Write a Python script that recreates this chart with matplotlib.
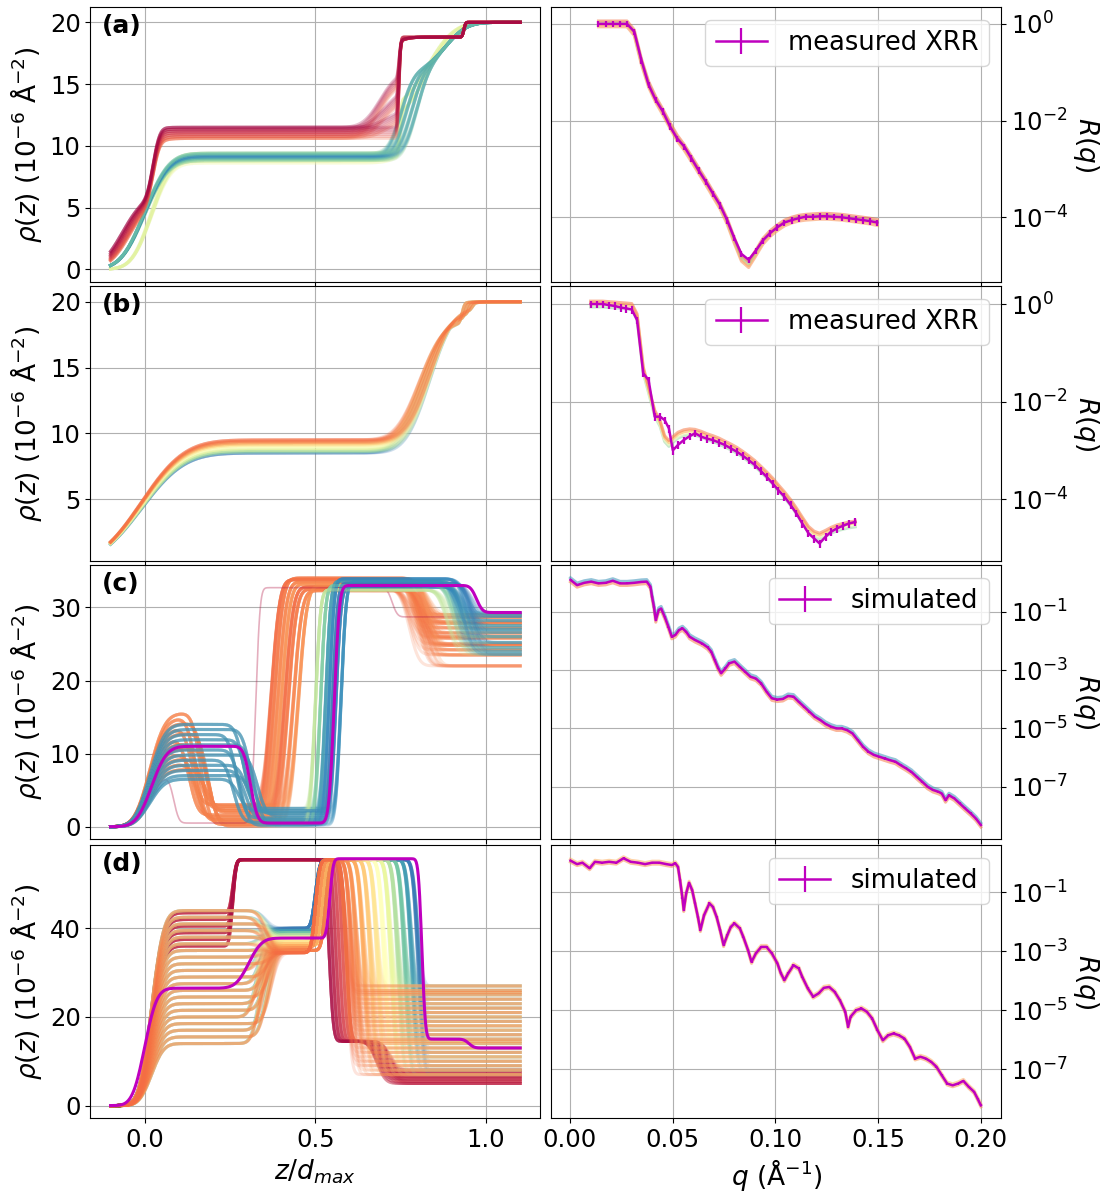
import math
from itertools import product

import matplotlib
matplotlib.use("Agg")
import matplotlib.pyplot as plt
import numpy as np

plt.rcParams.update({"font.size": 18, "xtick.labelsize": 17.5, "ytick.labelsize": 17.5})
cmap = plt.get_cmap("Spectral")

# ---- SLD profiles: layer levels / interface positions / roughness ----------

# (a) measured film, two families of solutions
A_RED_PLATEAU = [10.6, 10.75, 10.9, 11.05, 11.2, 11.35, 11.5]
A_RED_ONSET = [-0.040, -0.044, -0.048, -0.052, -0.056, -0.060, -0.065]
A_RED_SHADE = [0.19, 0.16, 0.13, 0.10, 0.07, 0.04, 0.01]
A_RED_SHOULDER = [0.0, 1.5, 3.0, 4.5]
A_RED_SHOULDER_Z = [0.72, 0.71, 0.70, 0.69]

A_COOL_PLATEAU = [8.8, 8.9, 9.0, 9.1, 9.2, 9.3, 9.4]
A_COOL_SHADE = [0.72, 0.76, 0.82, 0.88, 0.90, 0.84, 0.78]
A_COOL_RISE_Z = [0.75, 0.765, 0.78, 0.795]

A_YEL_PLATEAU = [8.6, 8.75, 8.9, 9.05, 9.2, 9.4]
A_YEL_SHADE = [0.56, 0.60, 0.64, 0.58, 0.54, 0.62]
A_YEL_JUMP = [12.0, 13.0]

# (b)
B_PLATEAU = [8.5, 8.6, 8.7, 8.85, 9.0, 9.1, 9.2, 9.3, 9.4, 9.5]
B_SHADE = [0.92, 0.74, 0.66, 0.58, 0.50, 0.42, 0.34, 0.27, 0.23, 0.20]
B_RISE_Z = [0.805, 0.815, 0.825, 0.835]
B_UPPER = [18.5, 18.9, 19.2, 19.5]
B_TOP_Z = [0.93, 0.94, 0.95, 0.96]

# (c) simulated three-layer film
C_FIT_LEVELS = [0.0, 11.0, 0.5, 33.0, 29.3]
C_FIT_EDGES = [0.02, 0.31, 0.555, 0.972]
C_FIT_WIDTHS = [0.035, 0.016, 0.012, 0.014]

C_OR_PEAK = [15.5, 14.8, 14.1, 13.4, 12.7, 12.0, 11.3, 10.6, 9.9, 9.2, 8.5, 7.8]
C_OR_FALL = [0.165, 0.150, 0.175, 0.140, 0.185, 0.130, 0.160, 0.190, 0.145, 0.170, 0.155, 0.180]
C_OR_LOW = [0.3, 1.0, 2.0, 3.0, 0.6, 1.6, 2.5, 0.1, 1.3, 2.8, 0.8, 2.2]
C_OR_RISE = [0.37, 0.38, 0.39, 0.40, 0.41, 0.42, 0.435, 0.45]
C_OR_TOP = [33.8, 34.0, 33.5, 33.2, 32.8, 32.5, 32.3, 33.0]
C_OR_DROP = [0.80, 0.82, 0.79, 0.835, 0.81, 0.775, 0.825, 0.805]
C_OR_END = [23.5, 25.0, 26.5, 28.0, 29.0, 24.2, 27.2, 22.0, 25.8, 28.6, 24.8, 26.0, 27.8]
C_OR_SHADE = [0.20, 0.22, 0.24, 0.26]

C_CO_PEAK = [14.0, 13.3, 12.6, 11.9, 11.2, 10.5, 9.8, 9.1, 8.4, 7.7, 7.0, 6.5]
C_CO_FALL = [0.29, 0.31, 0.27, 0.30, 0.32, 0.28, 0.33, 0.26, 0.30, 0.295, 0.315, 0.275]
C_CO_LOW = [2.5, 1.8, 1.2, 0.8, 0.4, 0.2, 1.5, 0.6, 2.0, 1.0, 0.3, 2.2]
C_CO_RISE = [0.50, 0.515, 0.53, 0.54, 0.55, 0.56, 0.575]
C_CO_TOP = [32.4, 33.0, 33.6, 33.9, 33.3, 32.8, 33.5]
C_CO_DROP = [0.885, 0.905, 0.925, 0.945, 0.96, 0.935, 0.915]
C_CO_SHADE = [0.66, 0.76, 0.86, 0.90, 0.92, 0.91, 0.89]
C_CO_END = [24.5, 26.0, 27.5, 28.8, 25.2, 23.6, 27.0, 29.2, 26.6, 24.0, 28.2]

C_ODD_LEVELS = [0.0, 7.0, 0.5, 32.7, 28.7]
C_ODD_EDGES = [0.015, 0.085, 0.325, 0.725]
C_ODD_WIDTHS = [0.03, 0.012, 0.01, 0.012]

# (d) simulated four-layer film
D_FIT_LEVELS = [0.0, 26.5, 37.8, 55.7, 15.0, 13.0]
D_FIT_EDGES = [0.0, 0.305, 0.542, 0.812, 0.95]
D_FIT_WIDTHS = [0.028, 0.03, 0.008, 0.008, 0.012]

D_RED_FIRST = [36.0, 37.5, 39.0, 40.5, 42.0, 43.5]
D_RED_DROP = [0.590, 0.580, 0.570, 0.560, 0.550, 0.540]
D_RED_SHADE = [0.17, 0.14, 0.11, 0.08, 0.05, 0.02]
D_RED_END = [5.0, 5.5, 6.0, 6.5, 7.0, 7.5, 8.0]
D_RED_SECOND_DROP = [0.68, 0.70, 0.72, 0.69, 0.71]

D_LATE_FIRST = [14.0, 15.5, 17.0, 18.5, 20.0, 21.5, 23.0, 24.5, 26.0, 27.5, 29.0,
                30.5, 32.0, 33.5, 35.0, 36.5, 38.0, 39.5, 41.0, 42.5, 44.0]
D_LATE_STEP = [0.34, 0.36, 0.35, 0.37, 0.33, 0.355, 0.345, 0.365, 0.35, 0.34, 0.36,
               0.335, 0.37, 0.345, 0.355, 0.34, 0.36, 0.35, 0.365, 0.345, 0.355]
D_LATE_DROP = [0.80, 0.78, 0.76, 0.74, 0.72, 0.70, 0.68, 0.66, 0.64, 0.62, 0.605, 0.59]
D_LATE_SHADE = [0.92, 0.86, 0.78, 0.68, 0.58, 0.50, 0.42, 0.36, 0.30, 0.26, 0.23, 0.20]
D_LATE_SECOND = [40.0, 39.5, 39.0, 38.5, 38.0, 37.5, 37.0, 36.5, 36.0, 35.5, 35.0, 34.5]
D_LATE_RISE = [0.50, 0.51, 0.52, 0.53, 0.525, 0.515, 0.505, 0.535, 0.52, 0.51, 0.53, 0.50]
D_LATE_END = [8.0, 11.0, 14.0, 17.0, 20.0, 23.0, 25.0, 27.0, 15.0, 19.0, 12.0, 22.0,
              9.0, 24.0, 16.0, 26.0, 10.0, 21.0, 13.0, 18.0, 7.0, 25.5, 14.5]

# ---- reflectivity curves (log10 R) ---------------------------------------

A_Q = [0.0139, 0.0174, 0.0209, 0.0243, 0.0278, 0.0313, 0.0348, 0.0383, 0.0417, 0.0452,
       0.0487, 0.0522, 0.0557, 0.0591, 0.0626, 0.0661, 0.0696, 0.0731, 0.0765, 0.0800,
       0.0835, 0.0870, 0.0905, 0.0939, 0.0974, 0.1009, 0.1044, 0.1079, 0.1113, 0.1148,
       0.1183, 0.1218, 0.1253, 0.1287, 0.1322, 0.1357, 0.1392, 0.1427, 0.1461, 0.1496]
A_LOGR = [0.0, 0.0, 0.0, 0.0, 0.0, -0.16, -0.75, -1.26, -1.57, -1.81,
          -2.12, -2.37, -2.54, -2.78, -3.03, -3.26, -3.51, -3.75, -4.06, -4.43,
          -4.76, -4.88, -4.69, -4.48, -4.33, -4.21, -4.11, -4.06, -4.02, -3.99,
          -3.99, -3.98, -3.98, -3.99, -4.00, -4.02, -4.04, -4.06, -4.08, -4.11]
A_FIT_LOGR = [0.0, 0.0, 0.0, 0.0, 0.0, -0.18, -0.78, -1.25, -1.56, -1.82,
              -2.10, -2.36, -2.56, -2.79, -3.03, -3.27, -3.52, -3.77, -4.08, -4.48,
              -4.85, -4.98, -4.74, -4.50, -4.34, -4.22, -4.12, -4.06, -4.02, -4.00,
              -3.99, -3.98, -3.98, -3.99, -4.00, -4.02, -4.04, -4.06, -4.08, -4.11]

B_Q = [0.0101, 0.0131, 0.0160, 0.0188, 0.0218, 0.0247, 0.0275, 0.0301, 0.0327, 0.0357,
       0.0383, 0.0413, 0.0439, 0.0461, 0.0482, 0.0501, 0.0526, 0.0554, 0.0583, 0.0609,
       0.0639, 0.0667, 0.0696, 0.0726, 0.0754, 0.0783, 0.0813, 0.0841, 0.0870, 0.0900,
       0.0928, 0.0957, 0.0987, 0.1015, 0.1044, 0.1074, 0.1102, 0.1131, 0.1161, 0.1189,
       0.1215, 0.1245, 0.1271, 0.1300, 0.1328, 0.1358, 0.1389]
B_LOGR = [0.0, 0.0, 0.0, -0.02, -0.04, -0.07, -0.09, -0.11, -0.33, -1.42,
          -1.56, -2.31, -2.31, -2.38, -2.55, -3.00, -2.89, -2.79, -2.71, -2.65,
          -2.72, -2.76, -2.79, -2.84, -2.89, -2.96, -3.03, -3.11, -3.20, -3.30,
          -3.42, -3.54, -3.68, -3.82, -3.95, -4.12, -4.29, -4.50, -4.70, -4.81,
          -4.91, -4.77, -4.67, -4.60, -4.55, -4.50, -4.47]
B_FIT_LOGR = [0.0, 0.0, 0.0, -0.01, -0.02, -0.03, -0.04, -0.05, -0.26, -1.35,
              -1.76, -2.24, -2.45, -2.76, -2.86, -2.78, -2.69, -2.64, -2.62, -2.63,
              -2.67, -2.72, -2.76, -2.81, -2.87, -2.93, -3.00, -3.08, -3.17, -3.27,
              -3.38, -3.50, -3.63, -3.77, -3.91, -4.07, -4.24, -4.43, -4.62, -4.72,
              -4.76, -4.70, -4.64, -4.59, -4.56, -4.53, -4.51]

C_Q = [0.0003, 0.0035, 0.0070, 0.0104, 0.0139, 0.0174, 0.0209, 0.0244, 0.0279, 0.0313,
       0.0348, 0.0374, 0.0392, 0.0400, 0.0409, 0.0418, 0.0432, 0.0444, 0.0461, 0.0479,
       0.0496, 0.0513, 0.0531, 0.0548, 0.0566, 0.0583, 0.0609, 0.0644, 0.0670, 0.0688,
       0.0705, 0.0722, 0.0736, 0.0757, 0.0775, 0.0801, 0.0827, 0.0853, 0.0879, 0.0905,
       0.0931, 0.0957, 0.0983, 0.1010, 0.1036, 0.1062, 0.1088, 0.1114, 0.1140, 0.1166,
       0.1192, 0.1218, 0.1245, 0.1271, 0.1297, 0.1323, 0.1349, 0.1375, 0.1401, 0.1427,
       0.1453, 0.1480, 0.1506, 0.1532, 0.1558, 0.1584, 0.1610, 0.1636, 0.1662, 0.1688,
       0.1715, 0.1741, 0.1767, 0.1793, 0.1810, 0.1828, 0.1845, 0.1871, 0.1897, 0.1923,
       0.1950, 0.1976, 0.2000]
C_LOGR = [0.09, -0.09, -0.01, 0.03, -0.03, -0.01, 0.06, -0.03, -0.03, -0.01,
          0.02, 0.03, -0.14, -0.49, -0.83, -1.29, -0.94, -0.89, -1.17, -1.51,
          -1.86, -1.80, -1.63, -1.57, -1.69, -1.86, -1.97, -2.09, -2.22, -2.37,
          -2.66, -2.94, -3.11, -2.94, -2.77, -2.71, -2.89, -3.06, -3.23, -3.29,
          -3.46, -3.74, -3.97, -4.01, -3.99, -3.89, -3.91, -4.09, -4.26, -4.43,
          -4.60, -4.71, -4.85, -4.94, -5.00, -5.00, -5.06, -5.17, -5.40, -5.63,
          -5.80, -5.91, -5.97, -6.03, -6.09, -6.14, -6.26, -6.37, -6.49, -6.66,
          -6.83, -7.00, -7.11, -7.17, -7.23, -7.46, -7.29, -7.40, -7.57, -7.74,
          -7.91, -8.09, -8.31]

D_Q = [0.0003, 0.0035, 0.0061, 0.0096, 0.0122, 0.0157, 0.0191, 0.0226, 0.0261, 0.0296,
       0.0331, 0.0366, 0.0400, 0.0435, 0.0470, 0.0496, 0.0513, 0.0526, 0.0536, 0.0548,
       0.0554, 0.0566, 0.0580, 0.0595, 0.0609, 0.0623, 0.0635, 0.0653, 0.0679, 0.0696,
       0.0714, 0.0731, 0.0748, 0.0766, 0.0783, 0.0801, 0.0827, 0.0844, 0.0867, 0.0884,
       0.0905, 0.0931, 0.0957, 0.0983, 0.1010, 0.1027, 0.1044, 0.1062, 0.1088, 0.1114,
       0.1131, 0.1158, 0.1184, 0.1210, 0.1236, 0.1262, 0.1288, 0.1314, 0.1340, 0.1354,
       0.1366, 0.1393, 0.1419, 0.1445, 0.1471, 0.1497, 0.1523, 0.1549, 0.1575, 0.1601,
       0.1628, 0.1654, 0.1680, 0.1706, 0.1732, 0.1758, 0.1784, 0.1810, 0.1836, 0.1863,
       0.1889, 0.1915, 0.1941, 0.1967, 0.1984, 0.2000]
D_LOGR = [0.08, -0.04, 0.01, -0.18, 0.04, 0.01, 0.04, 0.01, 0.16, 0.04,
          0.01, -0.04, 0.01, 0.01, -0.04, -0.07, -0.01, -0.13, -0.58, -1.20,
          -1.60, -1.03, -0.67, -0.92, -1.37, -1.83, -2.28, -1.77, -1.37, -1.49,
          -1.83, -2.28, -2.79, -2.45, -2.17, -2.05, -2.22, -2.51, -2.96, -3.36,
          -3.07, -2.85, -2.85, -3.07, -3.41, -3.75, -3.98, -3.75, -3.47, -3.58,
          -3.87, -4.26, -4.54, -4.43, -4.24, -4.21, -4.37, -4.66, -5.05, -5.56,
          -5.22, -5.00, -4.94, -5.05, -5.28, -5.68, -6.02, -5.85, -5.79, -5.85,
          -5.96, -6.24, -6.64, -6.58, -6.64, -6.75, -6.92, -7.21, -7.49, -7.55,
          -7.49, -7.40, -7.60, -7.77, -8.00, -8.23]

Z = np.linspace(-0.1, 1.1, 600)
_erf = np.vectorize(math.erf)


def slab(levels, edges, widths):
    """Error-function slab profile on the Z grid."""
    rho = np.full_like(Z, levels[0], dtype=float)
    for lo, hi, e, w in zip(levels[:-1], levels[1:], edges, widths):
        rho += (hi - lo) * 0.5 * (1 + _erf((Z - e) / (np.sqrt(2) * w)))
    return rho


def member(ax, rho, shade, alpha=0.25, lw=2.2):
    ax.plot(Z, rho, color=cmap(shade), alpha=alpha, lw=lw)


def spread(ax, q, logr, offsets, shades):
    q = np.asarray(q); logr = np.asarray(logr)
    for off, sh in zip(offsets, shades):
        ax.plot(q, 10 ** (logr + off), color=cmap(sh), alpha=0.55, lw=2.2)


def measured(ax, q, logr, rel, label):
    r = 10 ** np.asarray(logr)
    ax.errorbar(q, r, yerr=rel * r, color="m", lw=1.8, elinewidth=1.6, capsize=0, label=label)


fig = plt.figure(figsize=(11.06, 11.91), dpi=100)
W, H = 1106, 1191
ROW_TOP = [7, 286, 565, 845]
ROW_H = [275, 275, 274, 273]
left_axes, right_axes = [], []
for top, h in zip(ROW_TOP, ROW_H):
    left_axes.append(fig.add_axes([90.4 / W, 1 - (top + h) / H, 449.6 / W, h / H]))
    right_axes.append(fig.add_axes([551.4 / W, 1 - (top + h) / H, 450.0 / W, h / H]))
axa, axb, axc, axd = left_axes
rxa, rxb, rxc, rxd = right_axes

# (a) profiles
for (i, p), jump in product(enumerate(A_YEL_PLATEAU), A_YEL_JUMP):
    member(axa, slab([0, p, jump, 20], [0.02, 0.748, 0.83], [0.045, 0.004, 0.06]), A_YEL_SHADE[i])
for (i, p), rz in product(enumerate(A_COOL_PLATEAU), A_COOL_RISE_Z):
    member(axa, slab([0, p, 16, 20], [0.0, rz, 0.88], [0.055, 0.03, 0.05]), A_COOL_SHADE[i])
for (i, p), j in product(enumerate(A_RED_PLATEAU), range(len(A_RED_SHOULDER))):
    s = A_RED_SHOULDER[j]
    rho = slab([0, 6.0, p, p + s, 18.8, 20],
               [A_RED_ONSET[i], 0.025, A_RED_SHOULDER_Z[j], 0.745, 0.935],
               [0.05, 0.015, 0.04, 0.004, 0.004])
    member(axa, rho, A_RED_SHADE[i])

# (b) profiles
for (i, p), j in product(enumerate(B_PLATEAU), range(len(B_RISE_Z))):
    rho = slab([0, p, B_UPPER[j], 20], [-0.01, B_RISE_Z[j], B_TOP_Z[j]], [0.10, 0.055, 0.006])
    member(axb, rho, B_SHADE[i])

# (c) profiles
n = 0
for i, j in product(range(len(C_OR_PEAK)), range(len(C_OR_RISE))):
    rho = slab([0, C_OR_PEAK[i], C_OR_LOW[i], C_OR_TOP[j], C_OR_END[n % len(C_OR_END)]],
               [0.015, C_OR_FALL[i], C_OR_RISE[j], C_OR_DROP[j]],
               [0.035, 0.02, 0.02, 0.022])
    member(axc, rho, C_OR_SHADE[n % len(C_OR_SHADE)], alpha=0.2)
    n += 1
member(axc, slab(C_ODD_LEVELS, C_ODD_EDGES, C_ODD_WIDTHS), 0.04, alpha=0.35, lw=1.2)
n = 0
for i, j in product(range(len(C_CO_PEAK)), range(len(C_CO_RISE))):
    rho = slab([0, C_CO_PEAK[i], C_CO_LOW[i], C_CO_TOP[j], C_CO_END[n % len(C_CO_END)]],
               [0.015, C_CO_FALL[i], C_CO_RISE[j], C_CO_DROP[j]],
               [0.035, 0.02, 0.012, 0.022])
    member(axc, rho, C_CO_SHADE[j], alpha=0.2)
    n += 1
axc.plot(Z, slab(C_FIT_LEVELS, C_FIT_EDGES, C_FIT_WIDTHS), color="m", lw=2.2)

# (d) profiles: early drops underneath, then late drops from latest to earliest
n = 0
for j, i in product(range(len(D_RED_DROP)), range(len(D_RED_FIRST))):
    rho = slab([0, D_RED_FIRST[i], 55.5, 14.5, D_RED_END[n % len(D_RED_END)]],
               [0.02, 0.258, D_RED_DROP[j], D_RED_SECOND_DROP[n % len(D_RED_SECOND_DROP)]],
               [0.028, 0.008, 0.01, 0.02])
    member(axd, rho, D_RED_SHADE[j], alpha=0.3)
    n += 1
n = 0
for j, i in product(range(len(D_LATE_DROP)), range(len(D_LATE_FIRST))):
    rho = slab([0, D_LATE_FIRST[i], D_LATE_SECOND[j], 55.5, D_LATE_END[n % len(D_LATE_END)]],
               [0.02, D_LATE_STEP[i], D_LATE_RISE[j], D_LATE_DROP[j]],
               [0.028, 0.02, 0.01, 0.012])
    member(axd, rho, D_LATE_SHADE[j], alpha=0.18)
    n += 1
axd.plot(Z, slab(D_FIT_LEVELS, D_FIT_EDGES, D_FIT_WIDTHS), color="m", lw=2.2)

# reflectivity panels
spread(rxa, A_Q, A_FIT_LOGR, [-0.06, -0.02, 0.02, 0.06], [0.25, 0.3, 0.72, 0.2])
measured(rxa, A_Q, A_LOGR, 0.15, "measured XRR")
spread(rxb, B_Q, B_FIT_LOGR, [-0.06, -0.02, 0.02, 0.06], [0.72, 0.5, 0.3, 0.22])
measured(rxb, B_Q, B_LOGR, 0.18, "measured XRR")
spread(rxc, C_Q, C_LOGR, [-0.07, 0.07], [0.22, 0.88])
measured(rxc, C_Q, C_LOGR, 0.08, "simulated")
spread(rxd, D_Q, D_LOGR, [-0.05, 0.05], [0.25, 0.3])
measured(rxd, D_Q, D_LOGR, 0.08, "simulated")

# axes cosmetics
left_lims = [(-1.03, 21.24), (0.29, 21.2), (-1.68, 35.8), (-2.8, 58.8)]
left_ticks = [[0, 5, 10, 15, 20], [5, 10, 15, 20], [0, 10, 20, 30], [0, 20, 40]]
right_lims = [(-5.34, 0.35), (-5.27, 0.37), (-8.79, 0.60), (-8.66, 0.61)]
right_ticks = [[0, -2, -4], [0, -2, -4], [-1, -3, -5, -7], [-1, -3, -5, -7]]
for k, (ax, rx) in enumerate(zip(left_axes, right_axes)):
    ax.set_xlim(-0.159, 1.158)
    ax.set_ylim(*left_lims[k])
    ax.set_xticks([0.0, 0.5, 1.0])
    ax.set_yticks(left_ticks[k])
    ax.grid(True)
    ax.set_ylabel(r"$\rho(z)$ ($10^{-6}$ Å$^{-2}$)", fontsize=19)
    ax.text(0.025, 0.975, "(" + "abcd"[k] + ")", transform=ax.transAxes,
            fontsize=18, fontweight="bold", va="top", ha="left")

    rx.set_yscale("log")
    rx.set_xlim(-0.009, 0.21)
    rx.set_ylim(10 ** right_lims[k][0], 10 ** right_lims[k][1])
    rx.set_xticks([0.0, 0.05, 0.10, 0.15, 0.20])
    rx.set_yticks([10.0 ** e for e in right_ticks[k]])
    rx.yaxis.set_minor_locator(matplotlib.ticker.NullLocator())
    rx.yaxis.tick_right()
    rx.yaxis.set_label_position("right")
    rx.set_ylabel(r"$R(q)$", rotation=270, va="center", fontsize=19)
    rx.yaxis.set_label_coords(1.188, 0.5)
    rx.grid(True)
    rx.legend(loc="upper right", fontsize=18.5)
    if k < 3:
        ax.tick_params(labelbottom=False)
        rx.tick_params(labelbottom=False)

axd.set_xlabel(r"$z/d_{max}$", fontsize=19)
rxd.set_xlabel(r"$q$ (Å$^{-1}$)", fontsize=19)
fig.align_ylabels(left_axes)

fig.savefig("out.png", dpi=100)
